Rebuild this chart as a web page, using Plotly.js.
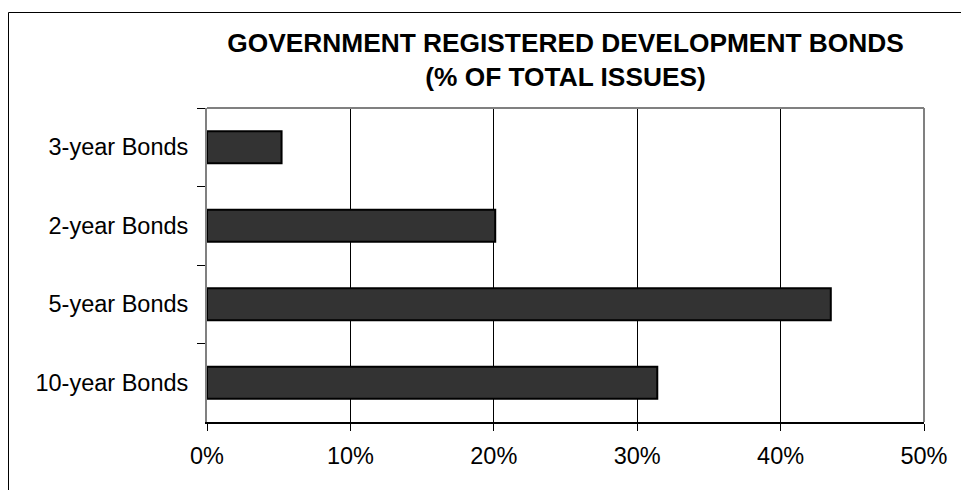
<!DOCTYPE html>
<html>
<head>
<meta charset="utf-8">
<script src="https://cdn.plot.ly/plotly-3.0.1.min.js"></script>
<style>
  html, body { margin: 0; padding: 0; background: #fff; }
  #chart { width: 961px; height: 490px; }
</style>
</head>
<body>
<div id="chart"></div>
<script>
// Data (top-to-bottom order as shown)
const categories = ['3-year Bonds', '2-year Bonds', '5-year Bonds', '10-year Bonds'];
const shares = [0.052, 0.201, 0.435, 0.314];
const xTickVals = [0, 0.1, 0.2, 0.3, 0.4, 0.5];
const xTickText = ['0%', '10%', '20%', '30%', '40%', '50%'];
const titleText = 'GOVERNMENT REGISTERED DEVELOPMENT BONDS<br>(% OF TOTAL ISSUES)';

const FONT = 'Arial, "Liberation Sans", Helvetica, sans-serif';

const trace = {
  type: 'bar',
  orientation: 'h',
  y: categories,
  x: shares,
  marker: { color: '#333333', line: { color: '#000000', width: 2 } },
  hoverinfo: 'x+y'
};

const layout = {
  width: 961,
  height: 490,
  paper_bgcolor: '#ffffff',
  plot_bgcolor: '#ffffff',
  margin: { l: 207, r: 37, t: 108, b: 68, pad: 0 },
  showlegend: false,
  bargap: 0.59,
  font: { family: FONT, color: '#000000', size: 23.5 },
  title: {
    text: titleText,
    font: { family: FONT, size: 26.3, weight: 'bold', color: '#000000' },
    x: 0.5, xref: 'paper', xanchor: 'center',
    y: 1 - 52 / 490, yref: 'container', yanchor: 'top'
  },
  xaxis: {
    range: [0, 0.5],
    tickvals: xTickVals,
    ticktext: xTickText,
    showgrid: true,
    gridcolor: '#000000',
    gridwidth: 1,
    zeroline: false,
    showline: true,
    linecolor: '#000000',
    linewidth: 1.5,
    ticks: 'outside',
    ticklen: 7,
    tickcolor: '#000000',
    tickwidth: 1,
    ticklabelstandoff: 5,
    tickfont: { family: FONT, size: 23.5, color: '#000000' },
    fixedrange: true
  },
  yaxis: {
    type: 'category',
    autorange: 'reversed',
    tickson: 'boundaries',
    showgrid: false,
    zeroline: false,
    showline: true,
    linecolor: '#808080',
    linewidth: 2,
    ticks: 'outside',
    ticklen: 8,
    tickcolor: '#000000',
    tickwidth: 1,
    ticklabelstandoff: 12,
    tickfont: { family: FONT, size: 23.5, color: '#000000' },
    fixedrange: true
  },
  shapes: [
    // plot area border (top and right in gray)
    { type: 'line', xref: 'paper', yref: 'paper', x0: 0, x1: 1, y0: 1, y1: 1,
      line: { color: '#808080', width: 2 } },
    { type: 'line', xref: 'paper', yref: 'paper', x0: 1, x1: 1, y0: 0, y1: 1,
      line: { color: '#808080', width: 2 } },
    // outer chart frame (left and top visible)
    { type: 'rect', xref: 'paper', yref: 'paper',
      x0: (8.5 - 207) / 717, x1: 1.2, y0: (422 - 12.5) / 314, y1: -0.4,
      line: { color: '#000000', width: 1 }, fillcolor: 'rgba(0,0,0,0)' }
  ]
};

Plotly.newPlot('chart', [trace], layout, { displayModeBar: false, staticPlot: true });
</script>
</body>
</html>
